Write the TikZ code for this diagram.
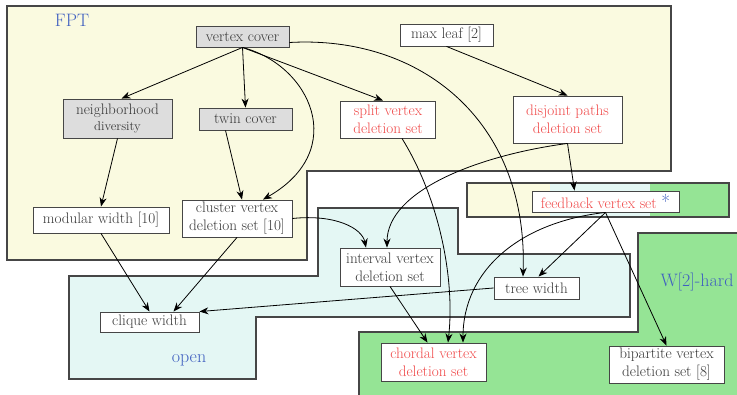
\documentclass[tikz,border=0pt]{standalone}
\usetikzlibrary{arrows.meta}
\definecolor{fptc}{RGB}{250,250,224}
\definecolor{openc}{RGB}{228,247,244}
\definecolor{hardc}{RGB}{149,228,149}
\definecolor{nodegray}{RGB}{221,221,221}
\definecolor{redt}{RGB}{240,72,72}
\definecolor{bluet}{RGB}{64,96,192}
\definecolor{textc}{RGB}{55,55,55}
\definecolor{linec}{RGB}{70,70,70}
\begin{document}
\begin{tikzpicture}[x=1pt,y=-1pt,
  region/.style={draw=linec,line width=1.1pt},
  box/.style={draw=linec,line width=0.9pt,fill=white,inner sep=0pt,align=center,text=textc,font=\fontsize{15.2}{18}\selectfont},
  graybox/.style={box,fill=nodegray},
  redbox/.style={box,text=redt},
  arr/.style={-{Stealth[length=9pt,width=7pt]},line width=0.8pt,black},
  lbl/.style={text=bluet,font=\fontsize{18}{20}\selectfont}]
\useasboundingbox (0,0) rectangle (737,395);
\begin{scope}
\clip (0,0) rectangle (737,395);
% FPT region
\filldraw[region,fill=fptc] (7,6) -- (671,6) -- (671,171) -- (307,171) -- (307,260) -- (7,260) -- cycle;
% open region
\filldraw[region,fill=openc] (69,276) -- (318,276) -- (318,208) -- (458,208) -- (458,254) -- (630,254) -- (630,317) -- (256,317) -- (256,379) -- (69,379) -- cycle;
% W[2]-hard region
\fill[hardc] (638,233) -- (745,233) -- (745,400) -- (359,400) -- (359,332) -- (638,332) -- cycle;
\draw[region] (359,400) -- (359,332) -- (638,332) -- (638,233) -- (745,233);
% feedback vertex set strip
\fill[fptc] (467,183) rectangle (550,217);
\fill[openc] (550,183) rectangle (650,217);
\fill[hardc] (650,183) rectangle (729,217);
\draw[region] (467,183) rectangle (729,217);
\end{scope}
% labels
\node[lbl] (lfpt) at (72,20) {FPT};
\node[lbl] (lopen) at (189,360) {open};
\node[lbl] (lhard) at (697,282) {W[2]-hard};
% nodes
\node[graybox,minimum width=93pt,minimum height=21pt] (vc) at (242.5,36.5) {vertex cover};
\node[box,minimum width=93pt,minimum height=22pt] (ml) at (446.5,35) {max leaf [2]};
\node[graybox,minimum width=109pt,minimum height=39pt] (nd) at (117.5,118.5) {neighborhood\\[-2pt]{\fontsize{12.8}{15}\selectfont diversity}};
\node[graybox,minimum width=93pt,minimum height=22pt] (twin) at (245.5,119) {twin cover};
\node[redbox,minimum width=95pt,minimum height=37pt] (split) at (388,119.5) {split vertex\\deletion set};
\node[redbox,minimum width=109pt,minimum height=47pt] (dp) at (567.5,119.5) {disjoint paths\\deletion set};
\node[box,minimum width=136pt,minimum height=26pt] (mw) at (101,220) {modular width [10]};
\node[box,minimum width=110pt,minimum height=37pt] (cl) at (237,218.5) {cluster vertex\\deletion set [10]};
\node[box,minimum width=100pt,minimum height=38pt] (iv) at (390,267) {interval vertex\\deletion set};
\node[box,minimum width=85pt,minimum height=22pt] (tw) at (536.5,288) {tree width};
\node[box,minimum width=99pt,minimum height=20pt] (cw) at (149.5,322) {clique width};
\node[redbox,minimum width=147pt,minimum height=21pt] (fvs) at (605.5,201.5) {feedback vertex set \textcolor{bluet}{\fontsize{19}{18}\selectfont *}};
\node[redbox,minimum width=105pt,minimum height=38pt] (ch) at (433.5,362) {chordal vertex\\deletion set};
\node[box,minimum width=115pt,minimum height=37pt] (bip) at (666.5,364.5) {bipartite vertex\\deletion set [8]};
% edges
\draw[arr] (vc.south) -- ([xshift=4pt]nd.north);
\draw[arr] (vc.south) -- (twin.north);
\draw[arr] (vc.south) .. controls (310,65) and (350,150) .. ([xshift=26pt]cl.north);
\draw[arr] (vc.south) -- ([xshift=-5pt]split.north);
\draw[arr] ([yshift=-6pt]vc.east) .. controls (420,35) and (528,120) .. ([xshift=-13.5pt]tw.north);
\draw[arr] (ml.south) -- (dp.north);
\draw[arr] (dp.south) -- ([xshift=-31pt]fvs.north);
\draw[arr] (dp.south) .. controls (480,155) and (387,190) .. ([xshift=-3pt]iv.north);
\draw[arr] ([xshift=14pt]split.south) .. controls (440,200) and (455,280) .. ([xshift=14.5pt]ch.north);
\draw[arr] (cl.east) .. controls (335,214) and (362,228) .. ([xshift=-24pt]iv.north);
\draw[arr] (mw.south) -- (cw.north);
\draw[arr] (cl.south) -- ([xshift=24pt]cw.north);
\draw[arr] (tw.west) -- (cw.north east);
\draw[arr] (iv.south) -- ([xshift=-6pt]ch.north);
\draw[arr] (fvs.south) -- ([xshift=2pt]tw.north);
\draw[arr] (fvs.south) .. controls (520,222) and (463,270) .. ([xshift=29.5pt]ch.north);
\draw[arr] (fvs.south) -- (bip.north);
\draw[arr] ([xshift=-20pt]twin.south) -- ([xshift=5pt]cl.north);
\draw[arr] (nd.south) -- (mw.north);
\end{tikzpicture}
\end{document}
